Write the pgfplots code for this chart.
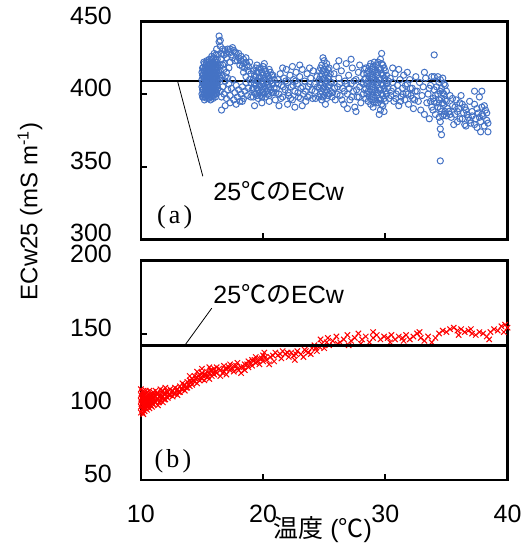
\documentclass[border=0pt]{standalone}
\usepackage{pgfplots}
\pgfplotsset{compat=1.18}
\usepackage{fontspec}
\setmainfont{Liberation Sans}
\newfontfamily\jp{Noto Sans CJK JP}
\newfontfamily\serif{Liberation Serif}
\definecolor{ptblue}{HTML}{4472C4}
\definecolor{ptred}{HTML}{FF0000}

\pgfplotsset{panel/.style={
  scale only axis, width=183.5pt, xmin=10, xmax=40,
  axis line style={line width=1.3pt}, tick align=inside,
  major tick length=3pt, tick style={black, line width=1pt},
  xtick={10,20,30,40}, xtick pos=bottom, ytick pos=left,
  /pgf/number format/assume math mode=true,
  tick label style={font=\fontsize{12.5}{14}\selectfont},
  yticklabel style={xshift=-11pt, yshift=3pt},
  xticklabel style={yshift=-9pt},
  clip marker paths=true}}

\begin{document}
\begin{tikzpicture}
\path (-70.5pt,10.5pt) rectangle (192.5pt,-261.5pt);

\begin{axis}[panel, at={(0pt,0pt)}, anchor=north west, height=109pt,
  ymin=300, ymax=450, ytick={300,350,400,450}, xticklabels={}, clip=false]
\addplot[black, line width=1.3pt] coordinates {(10,409) (40,409)};
\addplot[only marks, mark=o, mark size=1.55pt, mark options={ptblue, line width=0.5pt}] coordinates {
(15.0,400)(15.0,405)(15.0,410)(15.0,415)(15.1,398)(15.1,403)(15.1,408)(15.1,413)(15.1,418)(15.2,396)(15.2,401)(15.2,406)(15.2,411)(15.2,416)(15.2,421)(15.3,399)(15.3,404)(15.3,409)(15.3,414)(15.3,419)(15.4,397)(15.4,402)(15.4,407)(15.4,412)(15.4,417)(15.4,423)(15.5,400)(15.5,405)(15.5,410)(15.5,415)(15.5,420)(15.6,398)(15.6,403)(15.6,408)(15.6,413)(15.6,418)(15.6,424)(15.7,396)(15.7,401)(15.7,406)(15.7,411)(15.7,416)(15.7,421)(15.8,399)(15.8,404)(15.8,409)(15.8,414)(15.8,419)(15.8,426)(15.9,397)(15.9,402)(15.9,407)(15.9,412)(15.9,417)(15.9,422)(16.0,400)(16.0,405)(16.0,410)(16.0,415)(16.0,420)(16.0,428)(16.1,398)(16.1,403)(16.1,408)(16.1,413)(16.1,418)(16.1,424)(16.2,401)(16.2,406)(16.2,411)(16.2,416)(16.2,422)(16.2,431)(16.3,404)(16.3,409)(16.3,414)(16.3,420)(16.3,427)(16.4,436)(16.4,440)(16.5,433)(16.5,437)
(15.05,398)(15.05,403)(15.05,408)(15.05,413)(15.05,418)(15.15,400)(15.15,406)(15.15,411)(15.15,416)(15.15,422)(15.25,398)(15.25,403)(15.25,408)(15.25,413)(15.25,418)(15.35,401)(15.35,406)(15.35,411)(15.35,416)(15.35,421)(15.45,399)(15.45,404)(15.45,409)(15.45,414)(15.45,419)(15.55,397)(15.55,402)(15.55,407)(15.55,412)(15.55,417)(15.55,422)(15.65,400)(15.65,405)(15.65,410)(15.65,415)(15.65,420)(15.75,398)(15.75,403)(15.75,408)(15.75,413)(15.75,418)(15.75,424)(15.85,401)(15.85,406)(15.85,411)(15.85,416)(15.85,421)(15.95,399)(15.95,404)(15.95,409)(15.95,414)(15.95,419)(15.95,425)(16.05,402)(16.05,407)(16.05,412)(16.05,417)(16.05,422)(16.15,400)(16.15,405)(16.15,410)(16.15,415)(16.15,420)(16.15,427)(16.25,403)(16.25,408)(16.25,413)(16.25,418)(16.25,424)
(16.5,402)(16.6,398)(16.7,405)(16.8,400)(16.9,409)(17.0,397)(17.1,403)(17.2,407)(17.3,399)(17.4,404)(17.5,410)(17.6,396)(17.7,401)(17.8,406)(17.9,398)(18.0,403)(18.1,395)(18.2,400)(18.3,405)(18.4,397)(18.5,402)(18.6,408)(18.7,399)(18.8,404)(16.9,392)(17.3,394)(17.8,393)(16.6,389)(18.3,395)
(16.6,413)(16.8,417)(17.0,415)(17.1,411)(17.2,418)(16.9,412)(18.4,415)(18.5,418)(18.6,412)(18.7,420)(18.8,416)(18.9,410)(16.5,416)(16.5,411)(16.4,415)(16.4,410)
(16.6,424)(16.8,427)(17.0,425)(17.2,429)(17.4,427)(17.6,430)(17.8,428)(18.0,425)(18.2,423)(18.4,421)(17.1,431)(17.5,425)(17.9,423)(16.7,420)(18.1,420)(18.6,422)(18.3,419)(17.3,422)(17.7,423)
(16.5,420)(16.6,428)(16.7,431)(16.8,421)(16.9,430)(17.0,428)(17.3,431)(17.5,432)(17.7,429)(18.0,428)(18.2,426)(18.4,424)(18.6,425)(18.8,419)(18.9,422)(19.0,414)(19.0,408)(19.1,403)(19.0,398)
(19.2,398)(19.2,404)(19.2,410)(19.2,416)(19.4,400)(19.4,406)(19.4,412)(19.4,418)(19.6,397)(19.6,403)(19.6,409)(19.6,415)(19.8,399)(19.8,405)(19.8,411)(19.8,417)(20.0,401)(20.0,407)(20.0,413)(20.0,419)(20.2,398)(20.2,404)(20.2,410)(20.2,416)(20.4,400)(20.4,406)(20.4,412)(20.6,403)(20.6,409)(20.6,415)(20.8,401)(20.8,407)(20.8,413)(19.3,392)(19.9,394)(20.5,395)(19.5,420)(20.1,421)
(19.3,401)(19.3,407)(19.3,413)(19.5,399)(19.5,404)(19.5,409)(19.5,415)(19.7,401)(19.7,406)(19.7,412)(19.7,418)(19.9,398)(19.9,403)(19.9,409)(19.9,415)(20.1,400)(20.1,405)(20.1,411)(20.1,417)(20.3,402)(20.3,408)(20.3,414)(20.5,399)(20.5,405)(20.5,411)(20.5,417)(20.7,401)(20.7,407)(20.7,413)(20.9,404)(20.9,410)
(21.0,396)(21.1,404)(21.2,410)(21.3,400)(21.4,414)(21.5,406)(21.6,398)(21.7,411)(21.8,403)(21.9,417)(22.0,408)(22.1,399)(22.2,413)(22.3,405)(22.4,396)(22.5,410)(22.6,402)(22.7,415)(22.8,407)(22.9,398)(23.0,412)(23.1,404)(23.2,417)(23.3,400)(23.4,409)(23.5,395)(23.6,414)(23.7,405)(23.8,399)(23.9,411)(24.0,403)(24.1,416)(24.2,407)(24.3,397)(24.4,412)(21.3,392)(22.0,393)(22.6,391)(23.2,392)(21.6,418)(22.4,419)(23.0,420)(23.8,418)
(21.05,401)(21.25,407)(21.45,397)(21.65,405)(21.85,409)(22.05,401)(22.25,397)(22.45,406)(22.65,409)(22.85,401)(23.05,397)(23.25,405)(23.45,402)(23.65,398)(23.85,407)(24.05,397)(24.25,402)(24.45,405)
(24.6,398)(24.6,404)(24.6,410)(24.6,416)(24.8,396)(24.8,402)(24.8,408)(24.8,414)(24.8,420)(25.0,399)(25.0,405)(25.0,411)(25.0,417)(25.0,423)(25.2,397)(25.2,403)(25.2,409)(25.2,415)(25.2,421)(25.4,400)(25.4,406)(25.4,412)(25.4,418)(25.1,393)(24.9,425)
(24.7,400)(24.7,406)(24.7,412)(24.7,418)(24.9,398)(24.9,404)(24.9,410)(24.9,416)(25.1,401)(25.1,407)(25.1,413)(25.1,419)(25.3,399)(25.3,405)(25.3,411)(25.3,417)(25.5,402)(25.5,408)(25.5,414)
(25.6,408)(25.7,401)(25.8,414)(25.9,396)(26.0,419)(26.1,405)(26.2,411)(26.3,399)(26.4,416)(26.5,404)(26.6,393)(26.7,409)(26.8,421)(26.9,400)(27.0,413)(27.1,396)(27.2,407)(27.3,418)(27.4,402)(27.5,391)(27.6,410)(27.7,398)(27.8,415)(27.9,405)(28.0,394)(26.2,423)(27.2,424)(27.6,388)(26.9,390)(27.9,420)
(25.65,398)(25.85,404)(26.05,400)(26.25,407)(26.45,396)(26.65,402)(26.85,407)(27.05,404)(27.25,398)(27.45,409)(27.65,403)(27.85,398)(28.05,408)
(28.2,400)(28.2,407)(28.2,414)(28.4,397)(28.4,404)(28.4,411)(28.4,418)(28.6,395)(28.6,402)(28.6,409)(28.6,416)(28.8,393)(28.8,400)(28.8,407)(28.8,414)(28.8,421)(29.0,391)(29.0,398)(29.0,405)(29.0,412)(29.0,419)(29.2,396)(29.2,403)(29.2,410)(29.2,417)(29.4,394)(29.4,401)(29.4,408)(29.4,415)(29.4,422)(29.6,389)(29.6,396)(29.6,403)(29.6,410)(29.6,417)(29.6,424)(29.8,392)(29.8,399)(29.8,406)(29.8,413)(29.8,420)(30.0,395)(30.0,402)(30.0,409)(30.0,416)(29.7,428)(29.5,386)(29.9,388)
(28.3,403)(28.3,410)(28.3,417)(28.5,400)(28.5,407)(28.5,414)(28.7,398)(28.7,405)(28.7,412)(28.7,419)(28.9,396)(28.9,403)(28.9,410)(28.9,417)(29.1,394)(29.1,401)(29.1,408)(29.1,415)(29.1,422)(29.3,399)(29.3,406)(29.3,413)(29.3,420)(29.5,397)(29.5,404)(29.5,411)(29.5,418)(29.7,393)(29.7,400)(29.7,407)(29.7,414)(29.7,421)(29.9,397)(29.9,404)(29.9,411)(29.9,418)(30.1,400)(30.1,407)(30.1,413)
(30.2,404)(30.3,397)(30.4,411)(30.5,402)(30.6,408)(30.7,395)(30.8,414)(30.9,400)(31.0,406)(31.1,392)(31.2,410)(31.3,398)(31.4,404)(31.5,413)(31.6,396)(31.7,401)(31.8,407)(31.9,393)(32.0,410)(32.1,399)(32.2,404)(32.3,390)(32.4,396)(30.6,418)(31.1,417)(31.8,415)(32.5,412)
(30.25,409)(30.45,399)(30.65,404)(30.85,397)(31.05,402)(31.25,395)(31.45,400)(31.65,406)(31.85,400)(32.05,404)(32.25,397)(32.45,402)
(32.6,402)(32.7,395)(32.8,408)(32.9,389)(33.0,399)(33.1,405)(33.2,386)(33.3,411)(33.4,394)(33.5,400)(33.6,383)(33.7,406)(33.8,391)(33.9,397)(34.0,412)(34.0,403)(34.1,386)(34.2,394)(34.3,400)(34.4,408)(34.5,381)(34.5,390)(34.6,397)(34.6,404)(34.7,385)(34.7,411)(34.8,393)(34.8,400)(34.9,388)(34.9,406)(33.2,415)(34.0,427)(34.5,376)(34.6,372)(34.5,354)(33.8,412)
(33.9,389)(34.0,395)(34.1,399)(34.2,405)(34.3,391)(34.4,384)(34.4,396)(34.5,402)(34.5,410)(34.6,388)(34.7,394)(34.7,401)(34.8,386)(34.8,407)(34.9,396)(35.0,385)(35.0,402)(34.3,412)(33.6,404)(33.7,395)
(35.0,395)(35.2,388)(35.3,399)(35.4,384)(35.5,392)(35.7,386)(35.8,396)(35.9,381)(36.0,390)(36.1,383)(36.3,393)(36.4,387)(36.5,379)(36.6,389)(36.8,384)(36.9,395)(37.0,380)(37.1,388)(37.3,393)(37.4,383)(37.5,377)(37.6,387)(37.7,398)(37.8,381)(37.9,391)(38.0,385)(38.1,378)(38.2,389)(38.3,382)(38.4,374)(37.3,402)(37.9,402)(35.6,379)(36.2,399)
(35.1,390)(35.3,386)(35.5,397)(35.7,391)(35.9,388)(36.1,394)(36.3,383)(36.5,391)(36.7,386)(36.9,382)(37.1,385)(37.3,379)(37.5,390)(37.7,384)(37.9,386)(38.1,392)(38.3,387)(38.4,380)(36.6,378)(37.8,374)
};
\draw[black, line width=0.4pt] (axis cs:13.0,409) -- (axis cs:15.07,343.4);
\node[anchor=west, inner sep=0pt, font=\fontsize{12.5}{14}\selectfont] at (axis cs:15.9,332.7) {25{\jp ℃の}ECw};
\node[anchor=west, inner sep=0pt, font=\serif\fontsize{13}{15}\selectfont] at (axis cs:11.3,315.5) {(\hspace{0.12em}a\hspace{0.12em})};
\end{axis}

\begin{axis}[panel, at={(0pt,-119.5pt)}, anchor=north west, height=110pt,
  ymin=50, ymax=200, ytick={50,100,150,200}, clip=false]
\addplot[only marks, mark=x, mark size=1.9pt, mark options={ptred, line width=0.5pt}] coordinates {
(10.0,96)(10.0,100)(10.0,104)(10.0,108)(10.0,112)(10.1,98)(10.1,102)(10.1,106)(10.1,110)(10.2,95)(10.2,99)(10.2,103)(10.2,107)(10.2,111)(10.3,97)(10.3,101)(10.3,105)(10.3,109)(10.4,99)(10.4,103)(10.4,107)(10.4,111)(10.5,98)(10.5,102)(10.5,106)(10.5,110)(10.6,100)(10.6,104)(10.6,108)(10.7,99)(10.7,103)(10.7,107)(10.7,111)(10.8,101)(10.8,105)(10.8,109)
(10.9,100)(10.9,104)(10.9,108)(11.0,102)(11.0,106)(11.0,110)(11.2,103)(11.2,107)(11.2,111)(11.4,101)(11.4,105)(11.4,109)(11.6,104)(11.6,108)(11.6,112)(11.8,103)(11.8,107)(11.8,111)(12.0,105)(12.0,109)(12.0,113)
(12.2,106)(12.2,110)(12.4,108)(12.4,112)(12.6,107)(12.6,111)(12.8,109)(12.8,113)(13.0,108)(13.0,112)(13.2,110)(13.2,114)(13.4,112)(13.4,116)(13.6,111)(13.6,115)(13.8,113)(13.8,117)(14.0,114)(14.0,118)(14.0,121)
(14.2,115)(14.2,119)(14.4,117)(14.4,121)(14.6,116)(14.6,120)(14.6,124)(14.8,118)(14.8,122)(15.0,119)(15.0,123)(15.0,126)(15.2,118)(15.2,122)(15.4,120)(15.4,124)(15.6,119)(15.6,123)(15.6,127)(15.8,121)(15.8,125)(16.0,122)(16.0,126)
(16.2,123)(16.2,127)(16.5,121)(16.5,125)(16.8,124)(16.8,128)(17.0,122)(17.0,126)(17.3,125)(17.3,129)(17.6,124)(17.6,128)(17.9,126)(17.9,130)(18.2,127)(18.2,123)
(18.5,129)(18.5,125)(18.8,131)(18.8,127)(19.1,128)(19.1,132)(19.4,130)(19.4,134)(19.7,129)(19.7,133)(20.0,131)(20.0,135)
(20.1,137)(20.3,132)(20.6,134)(20.9,131)(21.2,135)(21.5,133)(21.8,136)(22.1,134)(20.5,129)(21.0,137)(21.6,138)(22.3,137)
(22.5,135)(22.8,138)(23.1,136)(23.4,139)(23.7,137)(24.0,140)(22.6,132)(23.3,134)(23.9,136)(24.2,142)
(24.4,138)(24.6,141)(24.8,143)(25.0,140)(25.2,144)(25.4,142)(24.7,146)(25.3,147)
(25.7,145)(26.0,148)(26.3,144)(26.6,146)(26.9,149)(27.2,145)(27.5,147)(27.8,150)(28.1,146)(28.4,148)(28.7,144)(29.0,147)(29.3,149)(29.6,146)(29.9,148)(26.1,143)(27.0,142)(28.0,143)(29.0,151)
(30.2,147)(30.5,149)(30.8,146)(31.1,148)(31.4,147)(31.7,149)(32.0,146)(32.3,148)(32.6,150)(32.9,147)(33.2,145)(33.5,148)(33.8,144)(34.1,147)(34.4,150)(34.7,152)(35.0,151)(30.4,144)(31.5,145)(32.8,151)
(35.3,153)(35.6,154)(35.9,152)(36.2,153)(36.5,151)(36.8,152)(37.1,150)(37.4,149)(37.7,151)(38.0,150)(38.3,148)(38.6,151)(38.9,153)(39.2,152)(39.5,155)(39.8,156)(36.0,149)(37.0,153)(38.5,146)(39.7,151)(40.0,154)
(10.05,102)(10.05,106)(10.15,96)(10.15,104)(10.15,108)(10.25,101)(10.25,105)(10.35,99)(10.35,103)(10.35,107)(10.45,101)(10.45,105)(10.55,100)(10.55,104)(10.65,102)(10.65,106)(10.75,101)(10.75,105)(10.85,103)(10.85,107)(10.95,102)(10.95,106)(11.1,104)(11.1,108)(11.3,105)(11.3,109)(11.5,103)(11.5,107)(11.7,106)(11.7,110)(11.9,105)(11.9,109)(12.1,107)(12.1,111)(12.3,108)(12.5,110)(12.7,109)(12.9,111)(13.1,110)(13.3,112)(13.5,114)(13.7,113)(13.9,115)(14.1,117)(14.3,118)(14.5,119)(14.7,121)(14.9,120)(15.1,121)(15.3,122)(15.5,121)(15.7,125)(15.9,123)(16.1,124)(16.4,126)(16.7,123)(16.9,126)(17.2,127)(17.5,126)(17.8,128)(18.0,125)(18.4,127)(18.7,129)(19.0,130)(19.3,132)(19.6,131)(19.9,133)(20.2,134)(20.8,135)(21.4,136)(22.0,137)(22.7,136)(23.5,138)(24.3,140)
};
\addplot[black, line width=1.3pt] coordinates {(10,142) (40,142)};
\draw[black, line width=0.4pt] (axis cs:13.6,142) -- (axis cs:15.8,167.3);
\node[anchor=west, inner sep=0pt, font=\fontsize{12.5}{14}\selectfont] at (axis cs:15.9,176.8) {25{\jp ℃の}ECw};
\node[anchor=west, inner sep=0pt, font=\serif\fontsize{13}{15}\selectfont] at (axis cs:11.1,62.6) {(\hspace{0.12em}b\hspace{0.12em})};
\end{axis}

\node[rotate=90, font=\fontsize{12}{14}\selectfont] at (-55.5pt,-95pt) {ECw25 (mS m\textsuperscript{-1})};
\node[inner sep=0pt, font=\fontsize{12.5}{14}\selectfont] at (91pt,-254.5pt) {{\jp 温度} ({\jp ℃})};
\end{tikzpicture}
\end{document}
